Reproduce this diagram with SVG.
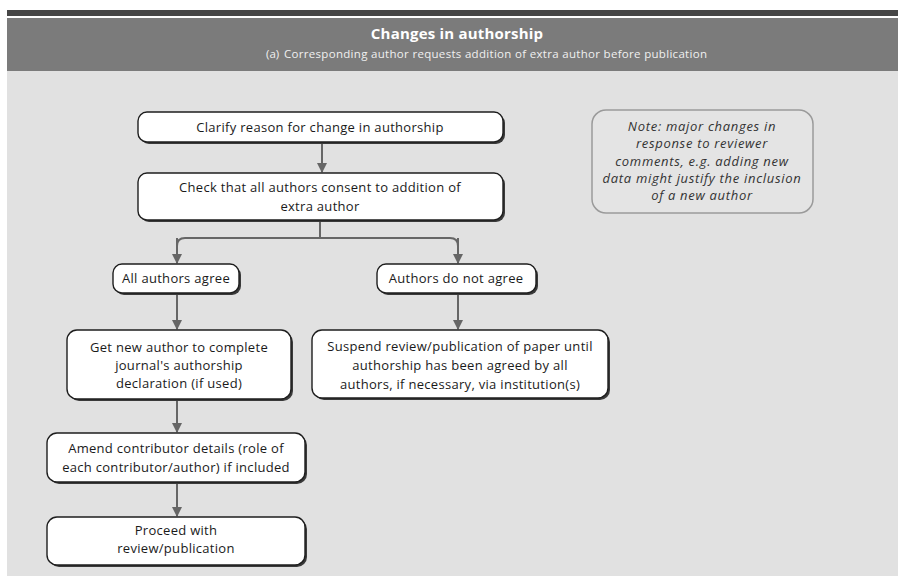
<svg xmlns="http://www.w3.org/2000/svg" width="898" height="581" viewBox="0 0 898 581">
<defs>
<style>
.sh{fill:#3a3a3a}
.bx{fill:#ffffff;stroke:#1e1e1e;stroke-width:1.4}
.t{font-family:"Open Sans","Liberation Sans",sans-serif;font-size:13px;fill:#1a1a1a;text-anchor:middle;letter-spacing:0.3px}
.ti{font-family:"Open Sans","Liberation Sans",sans-serif;font-size:13px;font-style:italic;fill:#333;text-anchor:middle;letter-spacing:0.7px}
.c{fill:none;stroke:#666;stroke-width:2}
</style>
<marker id="ah" viewBox="0 0 10 10" refX="9" refY="5" markerWidth="6" markerHeight="5" orient="auto" markerUnits="strokeWidth">
<path d="M0,0 L10,5 L0,10 z" fill="#666"/>
</marker>
</defs>
<rect x="0" y="0" width="898" height="581" fill="#ffffff"/>
<rect x="7" y="10" width="891" height="6" fill="#464646"/>
<rect x="7" y="18" width="891" height="53" fill="#7b7b7b"/>
<rect x="7" y="71" width="891" height="505" fill="#e1e1e1"/>
<g id="header">
<text x="457" y="39" font-family="'Open Sans','Liberation Sans',sans-serif" font-size="15" font-weight="bold" fill="#ffffff" text-anchor="middle" letter-spacing="0.2">Changes in authorship</text>
<text x="266" y="58" font-family="'Open Sans','Liberation Sans',sans-serif" font-size="11.5" fill="#f0f0f0">(a)</text>
<text x="284" y="58" font-family="'Open Sans','Liberation Sans',sans-serif" font-size="11.5" fill="#f0f0f0" textLength="423" lengthAdjust="spacing">Corresponding author requests addition of extra author before publication</text>
</g>
<g id="connectors">
<path class="c" d="M322 142 V172" marker-end="url(#ah)"/>
<path class="c" d="M320 220 V238"/>
<path class="c" d="M177 263 V246 Q177 238 185 238 H450 Q458 238 458 246 V263"/>
<path class="c" d="M177 238 V263" marker-end="url(#ah)"/>
<path class="c" d="M458 238 V263" marker-end="url(#ah)"/>
<path class="c" d="M177 293 V329" marker-end="url(#ah)"/>
<path class="c" d="M458 293 V329" marker-end="url(#ah)"/>
<path class="c" d="M177 399 V432" marker-end="url(#ah)"/>
<path class="c" d="M177 482 V516" marker-end="url(#ah)"/>
</g>
<g id="n1">
<rect class="sh" x="140" y="114" width="365" height="30" rx="9"/>
<rect class="bx" x="138" y="112" width="365" height="30" rx="9"/>
<text class="t" x="320" y="131.5">Clarify reason for change in authorship</text>
</g>
<g id="n2">
<rect class="sh" x="140" y="175" width="365" height="47" rx="9"/>
<rect class="bx" x="138" y="173" width="365" height="47" rx="9"/>
<text class="t" x="320" y="191.5">Check that all authors consent to addition of</text>
<text class="t" x="320" y="211">extra author</text>
</g>
<g id="n3">
<rect class="sh" x="115" y="266" width="126" height="29" rx="9"/>
<rect class="bx" x="113" y="264" width="126" height="29" rx="9"/>
<text class="t" x="176" y="283">All authors agree</text>
</g>
<g id="n4">
<rect class="sh" x="379" y="266" width="159" height="29" rx="9"/>
<rect class="bx" x="377" y="264" width="159" height="29" rx="9"/>
<text class="t" x="456" y="283">Authors do not agree</text>
</g>
<g id="n5">
<rect class="sh" x="69" y="332" width="224" height="69" rx="10"/>
<rect class="bx" x="67" y="330" width="224" height="69" rx="10"/>
<text class="t" x="179" y="352">Get new author to complete</text>
<text class="t" x="179" y="370">journal's authorship</text>
<text class="t" x="179" y="388">declaration (if used)</text>
</g>
<g id="n6">
<rect class="sh" x="314" y="332" width="296" height="68" rx="10"/>
<rect class="bx" x="312" y="330" width="296" height="68" rx="10"/>
<text class="t" x="460" y="351">Suspend review/publication of paper until</text>
<text class="t" x="460" y="370">authorship has been agreed by all</text>
<text class="t" x="460" y="389">authors, if necessary, via institution(s)</text>
</g>
<g id="n7">
<rect class="sh" x="49" y="435" width="258" height="49" rx="10"/>
<rect class="bx" x="47" y="433" width="258" height="49" rx="10"/>
<text class="t" x="176" y="452.5">Amend contributor details (role of</text>
<text class="t" x="176" y="471.5">each contributor/author) if included</text>
</g>
<g id="n8">
<rect class="sh" x="49" y="519" width="258" height="48" rx="10"/>
<rect class="bx" x="47" y="517" width="258" height="48" rx="10"/>
<text class="t" x="176" y="534.5">Proceed with</text>
<text class="t" x="176" y="553">review/publication</text>
</g>
<g id="note">
<rect x="592" y="110" width="221" height="103" rx="14" fill="#e4e4e4" stroke="#9a9a9a" stroke-width="1.5"/>
<text class="ti" x="702" y="131">Note: major changes in</text>
<text class="ti" x="702" y="148">response to reviewer</text>
<text class="ti" x="702" y="166">comments, e.g. adding new</text>
<text class="ti" x="702" y="183">data might justify the inclusion</text>
<text class="ti" x="702" y="200">of a new author</text>
</g>
</svg>
